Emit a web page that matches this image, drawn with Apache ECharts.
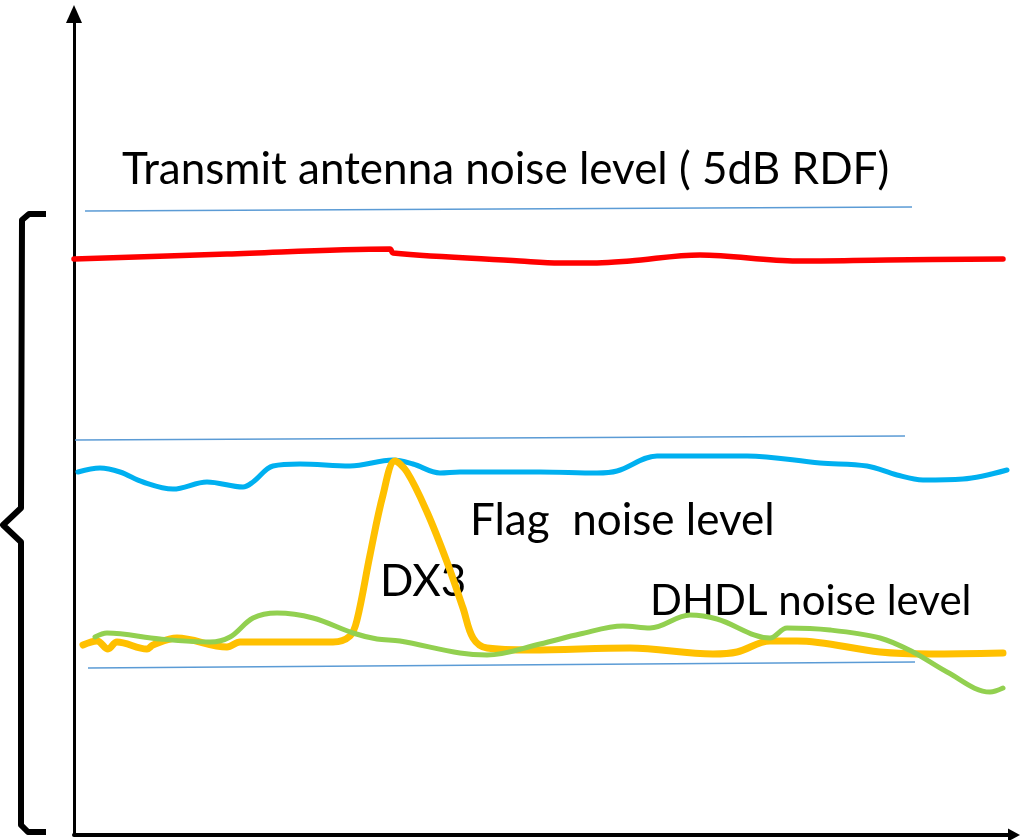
<!DOCTYPE html>
<html>
<head>
    <meta charset="utf-8">
    <script src="https://cdn.jsdelivr.net/npm/echarts@6/dist/echarts.min.js"></script>
    <style>
        html, body { margin: 0; padding: 0; background: #fff; }
        #noiseChart { width: 1024px; height: 840px; }
    </style>
</head>
<body>
<div id="noiseChart"></div>

<script>
    // noise levels, x = position along the band, y = level (arbitrary units)
    var transmitLevel = [
        [0, 57.6], [15.3, 58.1], [31.6, 58.6], [31.9, 58.2], [44.6, 57.4], [48.6, 57.2],
        [52.3, 57.2], [55.6, 57.4], [62.6, 58.0], [72.3, 57.4], [81.3, 57.5], [92.9, 57.6]
    ];
    var flagLevel = [
        [0.4, 36.3], [2.6, 36.7], [4.6, 36.3], [6.9, 35.3], [9.9, 34.6], [13.3, 35.3],
        [16.9, 34.8], [17.9, 35.3], [19.9, 36.9], [22.6, 37.1], [27.6, 36.9], [31.9, 37.5],
        [33.9, 37.1], [36.6, 36.2], [38.6, 36.3], [46.6, 36.3], [52.3, 36.2], [54.3, 36.4],
        [58.3, 37.9], [61.6, 37.9], [67.3, 37.9], [74.6, 37.2], [79.3, 36.9], [82.3, 36.0],
        [84.9, 35.5], [88.9, 35.6], [93.3, 36.5]
    ];
    var dx3Level = [
        [0.9, 19.0], [2.3, 19.4], [3.4, 18.6], [4.3, 19.3], [7.3, 18.6], [7.9, 19.0],
        [10.3, 19.7], [15.3, 18.8], [16.6, 19.3], [25.9, 19.3], [27.6, 19.9], [28.3, 21.5],
        [29.6, 28.0], [30.9, 34.0], [32.1, 37.4], [33.3, 36.3], [35.3, 32.3], [37.3, 27.3],
        [38.9, 22.7], [39.9, 19.7], [41.3, 18.7], [45.6, 18.5], [55.6, 18.7], [63.9, 18.1],
        [66.3, 18.3], [69.6, 19.4], [72.3, 19.4], [80.6, 18.3], [85.6, 18.1], [92.9, 18.2]
    ];
    var dhdlLevel = [
        [2.1, 19.8], [3.3, 20.2], [8.6, 19.6], [13.6, 19.3], [15.6, 19.8], [17.9, 21.7],
        [20.3, 22.2], [23.9, 21.7], [27.9, 20.2], [30.3, 19.6], [32.6, 19.4], [38.6, 18.2],
        [41.3, 18.0], [46.6, 19.1], [50.6, 20.1], [54.9, 20.9], [57.6, 20.7], [61.6, 22.0],
        [64.3, 21.6], [69.6, 19.7], [71.3, 20.7], [75.6, 20.5], [80.6, 19.7], [83.9, 18.3],
        [87.3, 16.3], [91.6, 14.3], [92.9, 14.7]
    ];
    // thin reference lines
    var refTop = [[1.1, 62.4], [83.8, 62.8]];
    var refMid = [[0.1, 39.5], [83.1, 39.9]];
    var refLow = [[1.4, 16.7], [84.1, 17.3]];

    var labels = ['Transmit antenna noise level ( 5dB RDF)', 'Flag  noise level', 'DX3', 'DHDL noise level'];

    var chart = echarts.init(document.getElementById('noiseChart'), null, {renderer: 'canvas'});

    function refLine(data) {
        return {
            type: 'line', data: data, showSymbol: false, silent: true,
            lineStyle: {color: '#5B9BD5', width: 1.3}
        };
    }

    function noiseLine(name, data, color, width) {
        return {
            name: name, type: 'line', data: data, showSymbol: false, smooth: 0.35,
            lineStyle: {color: color, width: width, cap: 'round', join: 'round'}
        };
    }

    function label(text, x, y, size) {
        return {
            type: 'text', x: x, y: y,
            style: {text: text, fill: '#000', font: size + 'px Lato, "Open Sans", sans-serif', verticalAlign: 'middle'}
        };
    }

    chart.setOption({
        animation: false,
        backgroundColor: '#fff',
        grid: {left: 74, right: 10, top: 14, bottom: 5},
        xAxis: {
            type: 'value', min: 0, max: 94,
            axisLine: {show: true, lineStyle: {color: '#000', width: 4}, symbol: ['none', 'triangle'], symbolSize: [13, 12]},
            axisTick: {show: false}, axisLabel: {show: false}, splitLine: {show: false}
        },
        yAxis: {
            type: 'value', min: 0, max: 82.1,
            axisLine: {show: true, lineStyle: {color: '#000', width: 3}, symbol: ['none', 'triangle'], symbolSize: [16, 18]},
            axisTick: {show: false}, axisLabel: {show: false}, splitLine: {show: false}
        },
        series: [
            refLine(refTop),
            refLine(refMid),
            refLine(refLow),
            noiseLine(labels[0], transmitLevel, '#FF0000', 5.5),
            noiseLine(labels[1], flagLevel, '#00B0F0', 5),
            noiseLine(labels[2], dx3Level, '#FFC000', 7),
            noiseLine(labels[3], dhdlLevel, '#92D050', 5)
        ],
        graphic: [
            {
                // left brace
                type: 'polyline',
                shape: {points: [[46, 214], [29, 214], [22, 220], [21, 508], [3, 525], [21, 542], [21, 825], [28, 832], [46, 832]]},
                style: {fill: null, stroke: '#000', lineWidth: 6, lineJoin: 'round'}
            },
            label(labels[0], 122, 170, 44),
            label(labels[1], 470, 521, 44),
            label(labels[2], 380, 582, 44),
            label(labels[3], 650, 601, 42)
        ]
    });

    window.addEventListener('resize', function () {
        chart.resize();
    });
</script>
</body>
</html>
